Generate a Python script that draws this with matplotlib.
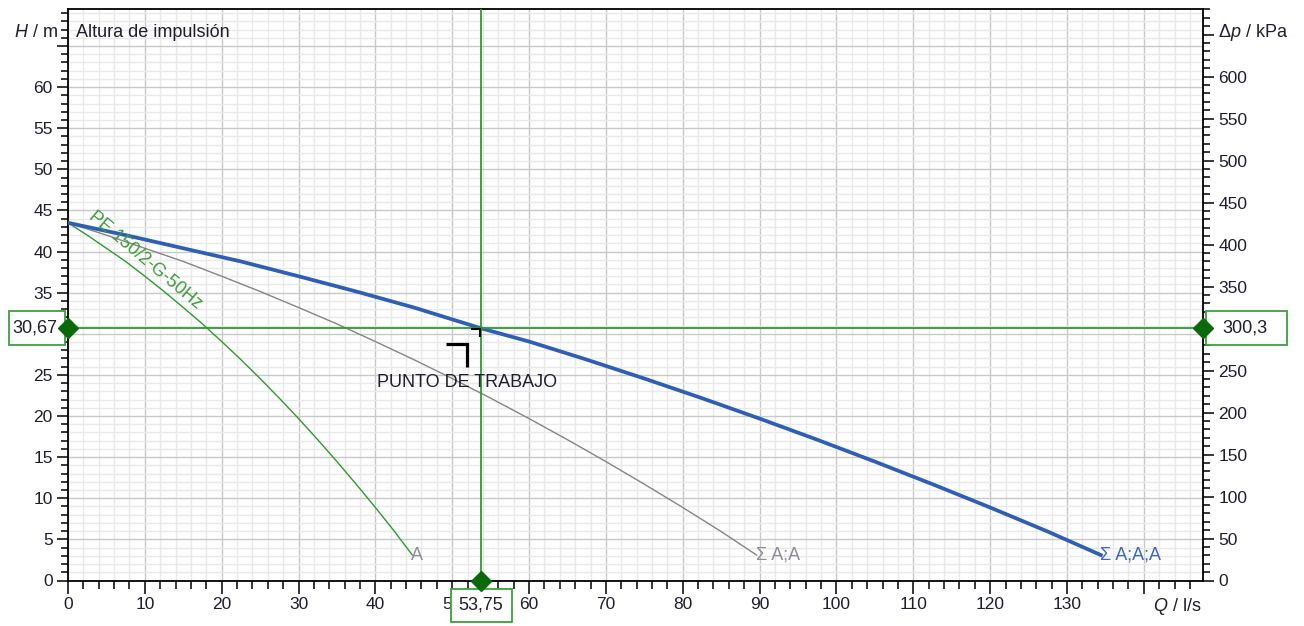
import matplotlib
matplotlib.use("Agg")
import matplotlib.pyplot as plt
import matplotlib.transforms as mtransforms
from matplotlib.patches import Rectangle
from matplotlib.lines import Line2D
from matplotlib.ticker import MultipleLocator, FixedLocator, FixedFormatter

plt.rcParams['font.family'] = ['Liberation Sans', 'DejaVu Sans']
plt.rcParams['mathtext.fontset'] = 'custom'
plt.rcParams['mathtext.rm'] = 'Liberation Sans'
plt.rcParams['mathtext.it'] = 'Liberation Sans:italic'

# pump curves, Q in l/s, H in m
q_single = [0, 2.5, 5, 7.5, 10, 12.5, 15, 17.5, 20, 22.5, 25, 27.5, 30, 32.5, 35, 37.5, 40, 42.5, 44.8]
h_single = [43.5, 42.0, 40.4, 38.8, 37.0, 35.15, 33.2, 31.2, 29.06, 26.86, 24.56, 22.17, 19.69,
            17.12, 14.46, 11.71, 8.88, 5.95, 3.1]

q_double = [0, 5, 10, 15, 20, 25, 30, 35, 40, 45, 50, 55, 60, 65, 70, 75, 80, 85, 89.6]
h_double = [43.5, 42.0, 40.4, 38.8, 37.0, 35.15, 33.2, 31.2, 29.06, 26.86, 24.56, 22.17, 19.69,
            17.12, 14.46, 11.71, 8.88, 5.95, 3.1]

q_triple = [0, 7.5, 15, 22.5, 30, 37.5, 45, 53.75, 60, 67.5, 75, 82.5, 90, 97.5, 105, 112.5, 120,
            127.5, 134.4]
h_triple = [43.5, 42.0, 40.4, 38.8, 37.0, 35.15, 33.2, 30.67, 29.06, 26.86, 24.56, 22.17, 19.69,
            17.12, 14.46, 11.71, 8.88, 5.95, 3.1]

curve_names = ["A", "Σ A;A", "Σ A;A;A"]
pump_name = "PE 150/2-G-50Hz"

# working point
q_op = 53.75
h_op = 30.67
dp_op = 300.3
kpa_per_m = dp_op / h_op

x_max = 147.7
y_max = 69.5

text_col = "#1e1e30"
green = "#2e9a2e"
dark_green = "#0a6a0a"
blue = "#2f5fb5"
gray = "#858585"
fs_tick = 12.5
fs_text = 13

fig = plt.figure(figsize=(13.04, 6.26), dpi=100)
ax = fig.add_axes([68 / 1304, 45.5 / 626, 1135 / 1304, 571.5 / 626])
ax.set_xlim(0, x_max)
ax.set_ylim(0, y_max)

# grid
ax.xaxis.set_major_locator(FixedLocator(range(0, 150, 10)))
ax.xaxis.set_major_formatter(FixedFormatter([str(v) for v in range(0, 140, 10)] + [""]))
ax.xaxis.set_minor_locator(MultipleLocator(2))
ax.yaxis.set_major_locator(FixedLocator(range(0, 70, 5)))
ax.yaxis.set_major_formatter(FixedFormatter([str(v) for v in range(0, 65, 5)] + [""]))
ax.yaxis.set_minor_locator(MultipleLocator(1))
ax.grid(which="major", color="#c8c8c8", lw=1.0, zorder=0)
ax.grid(which="minor", color="#e9e9e9", lw=1.0, zorder=0)
ax.set_axisbelow(True)

for s in ax.spines.values():
    s.set_color("black")
    s.set_linewidth(1.3)

ax.tick_params(axis="both", which="major", direction="out", length=8, width=1.1,
               colors="black", labelcolor=text_col, labelsize=fs_tick, pad=3)
ax.tick_params(axis="both", which="minor", direction="out", length=5, width=1.1, colors="black")
ax.tick_params(axis="x", which="major", length=9)
ax.tick_params(axis="x", which="minor", length=6)

# right pressure axis
ax2 = ax.twinx()
ax2.set_ylim(0, y_max * kpa_per_m)
ax2.yaxis.set_major_locator(FixedLocator(range(0, 700, 50)))
ax2.yaxis.set_major_formatter(FixedFormatter([str(v) for v in range(0, 650, 50)] + [""]))
ax2.yaxis.set_minor_locator(MultipleLocator(10))
ax2.tick_params(axis="y", which="major", direction="out", length=8, width=1.1,
                colors="black", labelcolor=text_col, labelsize=fs_tick, pad=3)
ax2.tick_params(axis="y", which="minor", direction="out", length=5, width=1.1, colors="black")
for s in ax2.spines.values():
    s.set_visible(False)

# curves
ax.plot(q_single, h_single, color=green, lw=1.0, zorder=3)
ax.plot(q_double, h_double, color=gray, lw=1.0, zorder=3)
ax.plot(q_triple, h_triple, color=blue, lw=2.7, zorder=4)

ax.annotate(curve_names[0], (q_single[-1], h_single[-1]), xytext=(-1, 0), textcoords="offset pixels",
            ha="left", va="center", fontsize=fs_text, color="#8c8ca6", zorder=5)
ax.annotate(curve_names[1], (q_double[-1], h_double[-1]), xytext=(-1, 0), textcoords="offset pixels",
            ha="left", va="center", fontsize=fs_text, color="#8c8c9c", zorder=5)
ax.annotate(curve_names[2], (q_triple[-1], h_triple[-1]), xytext=(-1, 0), textcoords="offset pixels",
            ha="left", va="center", fontsize=fs_text, color="#3a66c4", zorder=5)
ax.text(10.0, 38.9, pump_name, rotation=-40, rotation_mode="anchor", ha="center", va="center",
        fontsize=fs_text, color="#3a9a3a", zorder=5)

# working point cross
ax.axhline(h_op, color=green, lw=1.3, zorder=4)
ax.axvline(q_op, color=green, lw=1.3, zorder=4)

# axis captions
ax.text(-0.009, 66.6, r"$H$ / m", transform=ax.get_yaxis_transform(), ha="right", va="center",
        fontsize=fs_text, color=text_col)
ax.text(0.007, 66.6, "Altura de impulsión", transform=ax.get_yaxis_transform(), ha="left", va="center",
        fontsize=fs_text, color=text_col)
ax.text(1.013, 66.6, r"$\mathit{Δp}$ / kPa", transform=ax.get_yaxis_transform(), ha="left", va="center",
        fontsize=fs_text, color=text_col)
ax.text(0.999, -0.046, r"$Q$ / l/s", transform=ax.transAxes, ha="right", va="center",
        fontsize=fs_text, color=text_col)


def pixel_anchor(x, y):
    px, py = ax.transData.transform((x, y))
    return mtransforms.Affine2D().translate(px, py)


def value_box(x, y, rect, text_offset, label):
    # drawn on the twin axes so it sits above its tick labels
    tr = pixel_anchor(x, y)
    box = Rectangle(rect[:2], rect[2], rect[3], transform=tr, facecolor="white",
                    edgecolor="#3aa03a", lw=1.3, clip_on=False, zorder=7)
    ax2.add_artist(box)
    ax2.annotate(label, (x, y), xycoords=ax.transData, xytext=text_offset, textcoords="offset pixels",
                 ha="center", va="center", fontsize=fs_text, color=text_col,
                 annotation_clip=False, zorder=8)


value_box(0, h_op, (-59, -17, 56, 34), (-33, 0), f"{h_op:.2f}".replace(".", ","))
value_box(x_max, h_op, (3, -17, 81, 34), (42, 0), f"{dp_op:.1f}".replace(".", ","))
value_box(q_op, 0, (-30.5, -41.5, 61, 33), (0, -25), f"{q_op:.2f}".replace(".", ","))

ax2.plot([0, x_max, q_op], [h_op, h_op, 0], ls="none", marker="D", ms=10, transform=ax.transData,
         color=dark_green, clip_on=False, zorder=9)

# operating point marker and caption
tr = pixel_anchor(q_op, h_op)
ax.add_artist(Line2D([-35.5, -14.5, -14.5], [-15.5, -15.5, -38.5], transform=tr, color="black", lw=2.3,
                     solid_joinstyle="miter", solid_capstyle="butt", zorder=6))
ax.add_artist(Line2D([-10, -1.5, -1.5], [-0.5, -0.5, -8.5], transform=tr, color="black", lw=1.5,
                     solid_joinstyle="miter", solid_capstyle="butt", zorder=6))
ax.annotate("PUNTO DE TRABAJO", (q_op, h_op), xytext=(-14, -54.5), textcoords="offset pixels",
            ha="center", va="center", fontsize=fs_text, color=text_col, zorder=6)

fig.savefig("out.png", dpi=100)
